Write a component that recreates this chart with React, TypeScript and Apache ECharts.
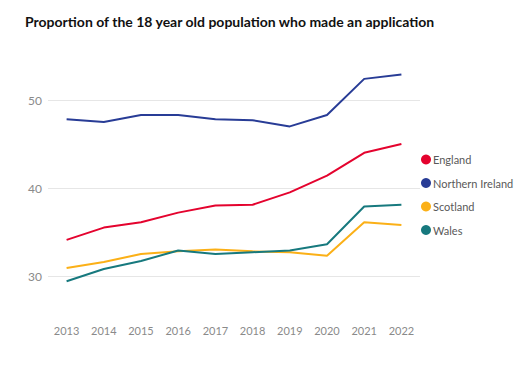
import React, { useEffect, useRef } from "react";
import * as echarts from "echarts";

const years = ["2013", "2014", "2015", "2016", "2017", "2018", "2019", "2020", "2021", "2022"];
const england = [34.1, 35.5, 36.1, 37.2, 38.0, 38.1, 39.5, 41.4, 44.0, 45.0];
const northernIreland = [47.8, 47.5, 48.3, 48.3, 47.8, 47.7, 47.0, 48.3, 52.4, 52.9];
const scotland = [30.9, 31.6, 32.5, 32.8, 33.0, 32.8, 32.7, 32.3, 36.1, 35.8];
const wales = [29.4, 30.8, 31.7, 32.9, 32.5, 32.7, 32.9, 33.6, 37.9, 38.1];

const seriesNames = ["England", "Northern Ireland", "Scotland", "Wales"];
const seriesData = [england, northernIreland, scotland, wales];
const seriesColors = ["#E4032E", "#283C96", "#FBB017", "#17797E"];

export default function App() {
  const ref = useRef<HTMLDivElement>(null);
  useEffect(() => {
    if (!ref.current) return;
    const chart = echarts.init(ref.current, undefined, { renderer: "svg" });
    chart.setOption({
      animation: false,
      backgroundColor: "#ffffff",
      title: {
        text: "Proportion of the 18 year old population who made an application",
        left: 20,
        top: 9,
        textStyle: { fontFamily: "Lato", fontWeight: "bold", fontSize: 14, color: "#111111" },
      },
      legend: {
        orient: "vertical",
        left: 416,
        top: 149,
        icon: "circle",
        itemWidth: 10,
        itemHeight: 10,
        itemGap: 12.5,
        data: seriesNames,
        textStyle: { fontFamily: "Lato", fontSize: 11, color: "#595959", padding: [0, 0, 0, -3] },
      },
      grid: { left: 48, right: 527 - 420, top: 100, bottom: 371 - 276 },
      xAxis: {
        type: "category",
        data: years,
        boundaryGap: true,
        axisLine: { show: false },
        axisTick: { show: false },
        axisLabel: { margin: 49, color: "#8a8a8a", fontFamily: "Lato", fontSize: 11 },
      },
      yAxis: {
        type: "value",
        min: 30,
        max: 50,
        interval: 10,
        axisLine: { show: false },
        axisTick: { show: false },
        axisLabel: { margin: 6, color: "#8a8a8a", fontFamily: "Lato", fontSize: 12 },
        splitLine: { lineStyle: { color: "#e6e6e6", width: 1 } },
      },
      series: seriesNames.map((name, i) => ({
        name,
        type: "line",
        data: seriesData[i],
        clip: false,
        symbol: "none",
        color: seriesColors[i],
        lineStyle: { width: 2, color: seriesColors[i] },
      })),
    });
    return () => chart.dispose();
  }, []);
  return <div ref={ref} style={{ width: 527, height: 371, position: "absolute", left: 0, top: 0 }} />;
}
